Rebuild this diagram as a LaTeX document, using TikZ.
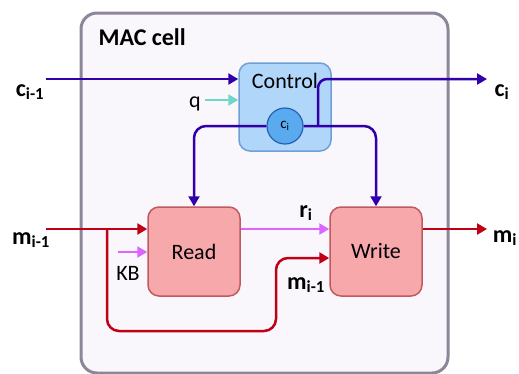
\documentclass[tikz,border=0pt]{standalone}
\usepackage{fontspec}
\setmainfont{Carlito}
\usetikzlibrary{arrows.meta,positioning,calc}

\definecolor{cellborder}{RGB}{142,133,152}
\definecolor{cellfill}{RGB}{249,247,252}
\definecolor{ctlline}{RGB}{50,0,170}
\definecolor{ctlfill}{RGB}{176,214,250}
\definecolor{ctlborder}{RGB}{110,160,214}
\definecolor{cifill}{RGB}{90,170,240}
\definecolor{ciborder}{RGB}{40,96,176}
\definecolor{memline}{RGB}{192,0,20}
\definecolor{opfill}{RGB}{247,168,171}
\definecolor{opborder}{RGB}{192,90,96}
\definecolor{kbline}{RGB}{220,100,255}
\definecolor{qline}{RGB}{110,215,200}

\begin{document}
\begin{tikzpicture}[
  x=1pt, y=-1pt,
  font=\fontsize{22}{26}\selectfont,
  unit/.style={draw=opborder, line width=1.5pt, rounded corners=11pt, fill=opfill,
               minimum width=92pt, minimum height=89pt, inner sep=0pt},
  ctlbox/.style={draw=ctlborder, line width=1.5pt, rounded corners=11pt, fill=ctlfill,
                 minimum width=92pt, minimum height=88pt, inner sep=0pt},
  cvec/.style={circle, draw=ciborder, line width=1.2pt, fill=cifill, minimum size=36pt,
               inner sep=0pt, font=\fontsize{15}{17}\selectfont},
  lbl/.style={font=\fontsize{24}{28}\selectfont\bfseries, inner sep=0pt},
  tip/.style={-{Triangle[length=10pt,width=11pt]}},
  ctl/.style={draw=ctlline, line width=2.5pt},
  mem/.style={draw=memline, line width=2.5pt},
  kb/.style={draw=kbline, line width=2.2pt},
  qin/.style={draw=qline, line width=2.2pt}
]
\useasboundingbox (0,0) rectangle (519,373);
% MAC cell frame
\draw[draw=cellborder, fill=cellfill, line width=3pt, rounded corners=16pt] (81,13) rectangle (448,373);
\node[font=\fontsize{24}{28}\selectfont\bfseries, anchor=west] (title) at (95,37) {MAC cell};

\node[ctlbox] (control) at (285,107) {};
\node (ctltext) at (285,81) {Control};
\node[cvec] (ci) at (285,126) {c\textsubscript{i}};
\node[unit] (read) at (194,251.5) {Read};
\node[unit] (write) at (376,251.5) {Write};

% control flow
\coordinate (cin) at (46,79);
\coordinate (cout) at (487,79);
\coordinate (ctap) at (318,126);
\draw[ctl,tip] (cin) -- (cin -| control.west);
\draw[ctl,tip,rounded corners=9pt] (ctap) |- (cout);
\draw[ctl,tip,rounded corners=12pt] (ci.west) -| (read.north);
\draw[ctl,tip,rounded corners=12pt] (ci.east) -| (write.north);
\coordinate (qsrc) at (205,100);
\draw[qin,tip] (qsrc) -- (qsrc -| control.west);

% memory flow
\coordinate (min) at (46,229);
\coordinate (mout) at (487,229);
\coordinate (mtap) at (107,229);
\coordinate (mbend) at (276,331);
\draw[mem,tip] (min) -- (min -| read.west);
\draw[mem,tip,rounded corners=12pt] (mtap) |- (mbend) |- ([yshift=-6.5pt]write.west);
\draw[kb,tip] (read.east |- min) -- (write.west |- min);
\draw[mem,tip] (write.east |- min) -- (mout);
\coordinate (kbsrc) at (118,252);
\draw[kb,tip] (kbsrc) -- (read.west |- kbsrc);

% labels
\node[lbl] (lcin) at (30,92) {c\textsubscript{i-1}};
\node[lbl] (lcout) at (502,92) {c\textsubscript{i}};
\node (lq) at (195,104) {q};
\node[lbl] (lmin) at (31,240) {m\textsubscript{i-1}};
\node[lbl] (lmout) at (505,238) {m\textsubscript{i}};
\node (lkb) at (128,273) {KB};
\node[lbl] (lr) at (306,213) {r\textsubscript{i}};
\node[lbl] (lmskip) at (306,285) {m\textsubscript{i-1}};
\end{tikzpicture}
\end{document}
